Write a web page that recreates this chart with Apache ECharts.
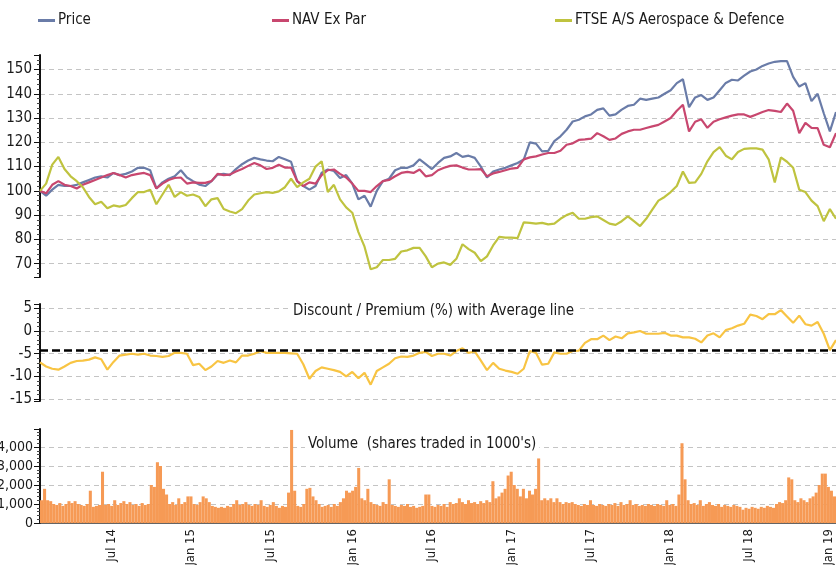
<!DOCTYPE html>
<html>
<head>
<meta charset="utf-8">
<script src="https://cdn.jsdelivr.net/npm/echarts@6/dist/echarts.min.js"></script>
<style>
  html, body { margin: 0; padding: 0; background: #fff; }
  #chart { width: 836px; height: 565px; }
</style>
</head>
<body>
<div id="chart"></div>
<script>
// weekly categories from 17 Jan 2014, lines sampled every 2 weeks
const startDate = [2014, 0, 17];
const weekCount = 261;
const lineStep = 2;

const price = [100, 98, 100.5, 102.5, 102, 102, 102.5, 103.5, 104.5, 105.5,
  106, 105.5, 107.4, 106.5, 107, 108, 109.5, 109.5, 108.5, 101,
  103.5, 105, 106, 108.5, 105.5, 104, 102.6, 102, 104, 106.7,
  107, 106.5, 109, 111, 112.5, 113.6, 113, 112.5, 112.2, 114,
  113, 112, 104, 102, 100.5, 102, 107.5, 108.8, 108.2, 105.3,
  106.5, 103, 96.5, 98, 93.5, 100, 104, 105, 108.5, 109.5,
  109.5, 110.5, 113, 111, 109, 111.5, 113.6, 114.2, 115.6, 114,
  114.5, 113.6, 110, 105.5, 108, 108.8, 109.5, 110.5, 111.5, 112.9,
  120, 119.5, 116.3, 116.5, 120.5, 122.5, 125.2, 128.6, 129.3, 130.7,
  131.5, 133.4, 134, 131, 131.5, 133.5, 135, 135.5, 138, 137.5,
  138, 138.5, 140, 141.5, 144.4, 146, 134.5, 138.5, 139.5, 137.5,
  138.5, 141.5, 144.5, 145.8, 145.5, 147.5, 149.2, 150, 151.5, 152.5,
  153.2, 153.5, 153.5, 147, 143, 144.4, 137, 140, 132, 124.5,
  132.5];

const navExPar = [100, 99, 102.5, 104, 102.5, 102, 101, 102.5, 103.5, 104.5,
  105.5, 106.5, 107.4, 106.5, 105.5, 106.5, 107, 107.4, 106.5, 101,
  103, 104.5, 105.3, 105.5, 103, 103.5, 103.3, 103.3, 104, 107,
  106.5, 106.7, 108, 109, 110.3, 111.5, 110.5, 109, 109.5, 110.8,
  109.6, 109.6, 104, 102, 103.5, 103, 106.5, 108.5, 108.8, 107,
  105.5, 103, 100, 100, 99.5, 102, 104, 104.5, 106, 107.4,
  107.8, 107.4, 108.8, 106, 106.5, 108.5, 109.5, 110.3, 110.5, 109.6,
  108.8, 108.8, 109, 106, 107.2, 107.8, 108.5, 109.2, 109.5, 113,
  113.8, 114.2, 115, 115.6, 115.6, 116.5, 119, 119.6, 121, 121.2,
  121.5, 123.8, 122.5, 121, 121.6, 123.5, 124.5, 125.2, 125.2, 125.9,
  126.6, 127.2, 128.6, 130, 133, 135.5, 124.5, 128.5, 129.5, 126,
  128.5, 129.5, 130.3, 131, 131.5, 131.5, 130.5, 131.5, 132.5, 133.3,
  133, 132.5, 136, 133, 123.8, 128, 126, 125.9, 119, 118,
  123.8];

const ftse = [100, 103, 110.8, 114, 109, 106, 104, 101.5, 97.5, 94.5,
  95.5, 92.8, 94, 93.5, 94.2, 97, 99.5, 99.5, 100.5, 94.5,
  98.5, 102.5, 97.5, 99.5, 98, 98.5, 97.5, 93.7, 96.5, 97,
  92.5, 91.5, 90.8, 92.5, 96, 98.5, 99, 99.5, 99.2, 99.8,
  101.5, 105, 101.5, 103.5, 105, 110, 112.2, 99.5, 102.5, 96.5,
  93.2, 91, 83, 77, 67.7, 68.5, 71.5, 71.5, 72, 75,
  75.5, 76.5, 76.5, 73, 68.5, 70, 70.5, 69.5, 72, 78,
  76, 74.5, 71, 73, 77.5, 81, 80.7, 80.7, 80.5, 87,
  86.8, 86.5, 86.8, 86.2, 86.5, 88.5, 90, 91, 88.5, 88.5,
  89.2, 89.5, 88, 86.5, 86, 87.5, 89.5, 87.5, 85.5, 88.5,
  92.3, 96, 97.5, 99.5, 102, 108, 103.3, 103.5, 107, 112.2,
  116, 118, 114.5, 113, 116, 117.3, 117.5, 117.5, 117, 113,
  103.5, 113.8, 112, 109.5, 100.5, 99.5, 96, 93.7, 87.5, 92.5,
  88.5];

const discount = [-6.9, -7.8, -8.3, -8.5, -7.8, -7, -6.6, -6.5, -6.3, -5.8,
  -6.2, -8.5, -6.8, -5.4, -5.2, -5, -5.2, -5, -5.4, -5.5,
  -5.7, -5.5, -4.8, -4.8, -5, -7.5, -7.2, -8.6, -7.8, -6.6,
  -7, -6.5, -6.9, -5.4, -5.4, -5, -4.4, -4.8, -4.8, -4.8,
  -4.8, -4.9, -5, -7.3, -10.5, -8.8, -8, -8.3, -8.6, -9,
  -10, -9, -10.4, -9.2, -11.8, -8.8, -8, -7.2, -6, -5.6,
  -5.7, -5.4, -4.8, -4.6, -5.5, -5, -5, -5.4, -4.4, -3.8,
  -4.8, -4.5, -6.5, -8.6, -7, -8.3, -8.7, -9, -9.4, -8.3,
  -4.4, -4.8, -7.4, -7.2, -4.7, -5, -5, -4.4, -4.3, -2.6,
  -1.8, -1.8, -1, -2, -1.2, -1.6, -0.5, -0.3, 0, -0.6,
  -0.6, -0.6, -0.4, -1, -1, -1.4, -1.4, -1.7, -2.5, -1,
  -0.5, -1.4, 0.2, 0.6, 1.2, 1.6, 3.6, 3.3, 2.6, 3.7,
  3.7, 4.6, 3.2, 1.8, 3.4, 1.5, 1.2, 2, -0.6, -4.2,
  -2];
const averageDiscount = -4.3;

const volume = [1200, 1800, 1200, 1150, 1000, 950, 1050, 900, 1000, 1150,
  1050, 1150, 1000, 950, 900, 1000, 1700, 850, 900, 950,
  2700, 950, 1000, 900, 1200, 950, 1050, 1150, 1000, 1100,
  950, 1000, 900, 1050, 950, 1000, 2000, 1900, 3200, 3000,
  1800, 1500, 1000, 1100, 950, 1300, 1000, 1100, 1400, 1400,
  1000, 950, 1100, 1400, 1300, 1100, 900, 850, 800, 850,
  800, 900, 850, 1000, 1200, 950, 1000, 1100, 950, 900,
  1000, 950, 1200, 900, 850, 950, 1100, 900, 800, 900,
  850, 1600, 4900, 1700, 900, 850, 1000, 1800, 1850, 1400,
  1200, 1000, 850, 900, 950, 850, 1000, 900, 1100, 1300,
  1700, 1600, 1700, 1900, 2900, 1300, 1200, 1800, 1100, 1000,
  950, 900, 1100, 1000, 2300, 950, 900, 850, 950, 900,
  1000, 850, 900, 800, 850, 900, 1500, 1500, 900, 850,
  950, 900, 1000, 850, 1100, 1000, 1050, 1300, 1100, 1000,
  1200, 1050, 1100, 1000, 1150, 1050, 1200, 1100, 2200, 1300,
  1400, 1600, 1800, 2500, 2700, 2000, 1800, 1400, 1800, 1300,
  1700, 1500, 1800, 3400, 1200, 1300, 1200, 1300, 1100, 1300,
  1100, 1000, 1100, 1050, 1100, 1000, 950, 900, 1000, 950,
  1200, 950, 900, 1000, 950, 900, 1000, 950, 1050, 900,
  1100, 950, 1000, 1200, 950, 1000, 900, 950, 900, 1000,
  950, 900, 1000, 950, 900, 1200, 950, 1000, 900, 1500,
  4200, 2300, 1200, 1000, 1050, 950, 1200, 900, 1000, 1100,
  950, 900, 1000, 850, 950, 900, 850, 950, 900, 850,
  700, 800, 750, 850, 800, 750, 850, 800, 900, 850,
  800, 1000, 1100, 1050, 1200, 2400, 2300, 1200, 1100, 1300,
  1200, 1100, 1300, 1400, 1600, 2000, 2600, 2600, 1900, 1700,
  1400];

const tickLabels = ['Jul 14', 'Jan 15', 'Jul 15', 'Jan 16', 'Jul 16', 'Jan 17', 'Jul 17', 'Jan 18', 'Jul 18', 'Jan 19'];
const monthNames = ['Jan', 'Feb', 'Mar', 'Apr', 'May', 'Jun', 'Jul', 'Aug', 'Sep', 'Oct', 'Nov', 'Dec'];
// ticks split each half year in four
const tickMarks = [[0, 1], [1, 15], [3, 1], [4, 15], [6, 1], [7, 15], [9, 1], [10, 15]];

const DAY = 86400000;
const t0 = Date.UTC(startDate[0], startDate[1], startDate[2]);
let weeks = [];
for (let j = 0; j < weekCount; j++) {
  weeks.push(new Date(t0 + j * 7 * DAY).toISOString().slice(0, 10));
}
let lineDates = weeks.filter((d, j) => j % lineStep === 0);

function weekHas(value, marks) {
  let t = Date.parse(value);
  for (let k = 0; k < 7; k++) {
    let d = new Date(t + k * DAY);
    for (let m of marks) {
      if (d.getUTCMonth() === m[0] && d.getUTCDate() === m[1]) return d;
    }
  }
  return null;
}
function labelText(value) {
  let d = weekHas(value, [[0, 1], [6, 1]]);
  if (!d) return '';
  return monthNames[d.getUTCMonth()] + ' ' + String(d.getUTCFullYear()).slice(2);
}

const font = "'Liberation Sans Narrow', 'DejaVu Sans Condensed', sans-serif";
const txt = '#1a1a1a';

function yAxisBase(idx, extra) {
  return Object.assign({
    type: 'value',
    gridIndex: idx,
    axisLine: { show: true, lineStyle: { color: '#111', width: 2 } },
    axisTick: { show: true, length: 6, lineStyle: { color: '#111' } },
    minorTick: { show: true, splitNumber: 5, length: 3, lineStyle: { color: '#444' } },
    axisLabel: { color: txt, fontSize: 15, fontFamily: font, margin: 8, showMinLabel: false, showMaxLabel: false },
    splitLine: { show: true, showMinLine: false, showMaxLine: false, lineStyle: { color: '#c4c4c4', type: [5, 4], width: 1 } }
  }, extra);
}

let chart = echarts.init(document.getElementById('chart'));
let option = {
  animation: false,
  backgroundColor: '#fff',
  textStyle: { fontFamily: font },
  title: [
    {
      text: 'Discount / Premium (%) with Average line',
      left: 290, top: 304, padding: [0, 3],
      backgroundColor: '#fff',
      textStyle: { fontSize: 15, fontWeight: 'normal', color: txt, fontFamily: font }
    },
    {
      text: "Volume  (shares traded in 1000's)",
      left: 305, top: 437, padding: [0, 3],
      backgroundColor: '#fff',
      textStyle: { fontSize: 15, fontWeight: 'normal', color: txt, fontFamily: font }
    }
  ],
  legend: [
    { data: ['Price'], left: 38, top: 13 },
    { data: ['NAV Ex Par'], left: 272, top: 13 },
    { data: ['FTSE A/S Aerospace & Defence'], left: 555, top: 13 }
  ].map(l => Object.assign(l, {
    icon: 'rect', itemWidth: 17, itemHeight: 3, itemGap: 4, padding: 0,
    textStyle: { fontSize: 15, color: txt, fontFamily: font, padding: [0, 0, 0, -2] }
  })),
  grid: [
    { left: 40, right: 0, top: 55, height: 222, outerBoundsMode: 'none', containLabel: false },
    { left: 40, right: 0, top: 304, height: 97, outerBoundsMode: 'none', containLabel: false },
    { left: 40, right: 0, top: 429, height: 94, outerBoundsMode: 'none', containLabel: false }
  ],
  xAxis: [
    { type: 'category', gridIndex: 0, data: lineDates, boundaryGap: false, show: false },
    { type: 'category', gridIndex: 1, data: lineDates, boundaryGap: false, show: false },
    {
      type: 'category', gridIndex: 2, data: weeks, boundaryGap: true,
      axisLine: { lineStyle: { color: '#333', width: 1.5 } },
      axisTick: {
        alignWithLabel: true, length: 5, lineStyle: { color: '#555' },
        interval: (i, v) => weekHas(v, tickMarks) !== null
      },
      axisLabel: {
        rotate: 90, margin: 6, color: txt, fontSize: 13, fontFamily: font,
        interval: (i, v) => tickLabels.indexOf(labelText(v)) >= 0,
        formatter: v => labelText(v)
      },
      splitLine: { show: false }
    }
  ],
  yAxis: [
    yAxisBase(0, { min: 64.5, max: 156, splitNumber: 9 }),
    yAxisBase(1, { min: -15.4, max: 5.95, splitNumber: 5 }),
    yAxisBase(2, {
      min: 0, max: 4950, splitNumber: 5,
      axisLabel: {
        color: txt, fontSize: 14, fontFamily: font, margin: 7, showMinLabel: true, showMaxLabel: false,
        formatter: v => v.toLocaleString('en-US')
      }
    })
  ],
  series: [
    {
      name: 'Price', type: 'line', xAxisIndex: 0, yAxisIndex: 0, data: price,
      color: '#6a7ca8', showSymbol: false, lineStyle: { width: 2.2 }
    },
    {
      name: 'NAV Ex Par', type: 'line', xAxisIndex: 0, yAxisIndex: 0, data: navExPar,
      color: '#c8476f', showSymbol: false, lineStyle: { width: 2.2 }
    },
    {
      name: 'FTSE A/S Aerospace & Defence', type: 'line', xAxisIndex: 0, yAxisIndex: 0, data: ftse,
      color: '#bfc33f', showSymbol: false, lineStyle: { width: 2.2 }
    },
    {
      name: 'Discount', type: 'line', xAxisIndex: 1, yAxisIndex: 1, data: discount,
      color: '#f8c443', showSymbol: false, lineStyle: { width: 2.2 },
      markLine: {
        silent: true, symbol: 'none', label: { show: false },
        lineStyle: { color: '#000', type: [8, 4], width: 2.5 },
        data: [{ yAxis: averageDiscount }]
      }
    },
    {
      name: 'Volume', type: 'bar', xAxisIndex: 2, yAxisIndex: 2, data: volume,
      color: '#f69a55', barCategoryGap: '0%'
    }
  ]
};
chart.setOption(option);
</script>
</body>
</html>
